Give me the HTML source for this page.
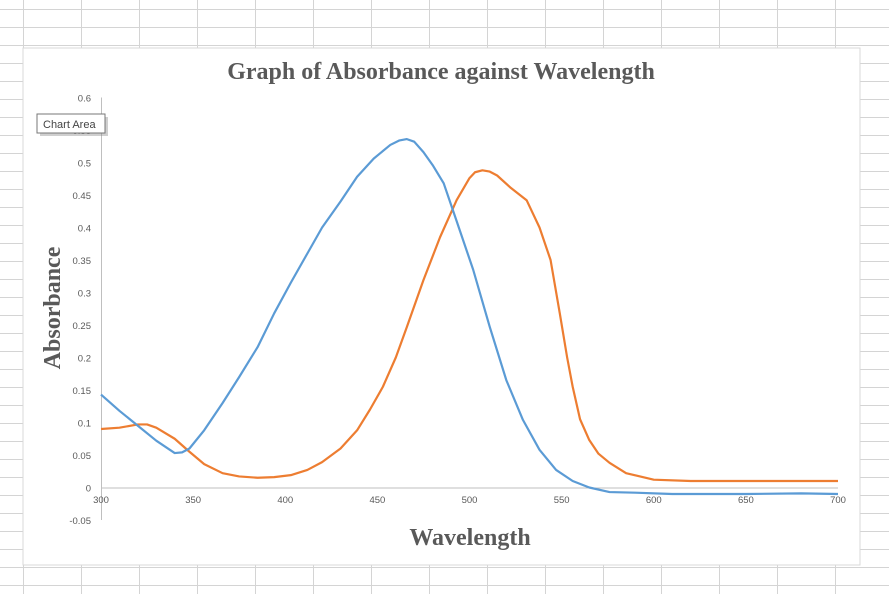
<!DOCTYPE html>
<html><head><meta charset="utf-8"><style>
body{margin:0;width:889px;height:594px;overflow:hidden;background:#fff;font-family:"Liberation Sans",sans-serif}
svg{display:block}
</style></head><body>
<svg id="s" width="889" height="594">
<g id="grid"></g>
<rect x="23" y="48" width="837" height="517" fill="#fff" stroke="#d9d9d9"/>
<text x="441" y="79" text-anchor="middle" font-family="Liberation Serif,serif" font-weight="bold" font-size="24" fill="#595959">Graph of Absorbance against Wavelength</text>
<text transform="translate(60,308) rotate(-90)" text-anchor="middle" font-family="Liberation Serif,serif" font-weight="bold" font-size="24" fill="#595959">Absorbance</text>
<text x="470" y="545" text-anchor="middle" font-family="Liberation Serif,serif" font-weight="bold" font-size="24" fill="#595959">Wavelength</text>
<g id="axes"></g>
<g id="series"></g>
<g>
<rect x="40" y="117" width="68" height="19" fill="#888" opacity="0.4"/>
<rect x="37" y="114" width="68" height="19" fill="#fff" stroke="#777"/>
<text x="43" y="128" font-size="11" fill="#444">Chart Area</text>
</g>
</svg>
<script>
const yTicks=[0.6,0.55,0.5,0.45,0.4,0.35,0.3,0.25,0.2,0.15,0.1,0.05,0,-0.05];
const xTicks=[300,350,400,450,500,550,600,650,700];
const blueX=[300,310,320,330,340,344,348,356,366,375,385,394,403,412,420,430,439,448,457,462,466,470,475,480,486,493,502,511,520,529,538,547,556,565,576,590,610,650,680,700];
const blueY=[0.143,0.118,0.095,0.072,0.053,0.054,0.060,0.088,0.13,0.17,0.216,0.268,0.315,0.36,0.40,0.44,0.478,0.506,0.527,0.534,0.536,0.532,0.516,0.496,0.468,0.41,0.335,0.247,0.165,0.104,0.058,0.027,0.01,0.0,-0.007,-0.008,-0.01,-0.01,-0.009,-0.01];
const orangeX=[300,310,320,325,330,340,348,356,366,375,385,394,403,412,420,430,439,446,453,460,466,475,484,493,500,503,507,511,515,522,531,538,544,549,553,556,560,565,570,576,585,600,620,650,680,700];
const orangeY=[0.09,0.092,0.097,0.097,0.092,0.075,0.055,0.036,0.022,0.017,0.015,0.016,0.019,0.027,0.039,0.06,0.088,0.12,0.155,0.2,0.247,0.319,0.385,0.442,0.476,0.485,0.488,0.486,0.48,0.462,0.442,0.40,0.35,0.268,0.2,0.155,0.105,0.073,0.052,0.038,0.022,0.012,0.01,0.01,0.01,0.01];
const NS="http://www.w3.org/2000/svg";
const xs=v=>101+(v-300)*(838-101)/400;
const ys=v=>487.5-v*650;
function mk(t,a,p){const e=document.createElementNS(NS,t);for(const k in a)e.setAttribute(k,a[k]);p.appendChild(e);return e;}
const grid=document.getElementById('grid');
for(let y=9;y<594;y+=18){mk('line',{x1:0,x2:889,y1:y+.5,y2:y+.5,stroke:'#d4d4d4'},grid);}
for(const x of [23,81,139,197,255,313,371,429,487,545,603,661,719,777,835]){mk('line',{x1:x+.5,x2:x+.5,y1:0,y2:594,stroke:'#d4d4d4'},grid);}
const ax=document.getElementById('axes');
const yl=mk('line',{x1:101.5,x2:101.5,y1:ys(0.6),y2:ys(-0.05),stroke:'#bfbfbf'},ax);


const xl=mk('line',{x1:101,x2:838,y1:ys(0)+.5,y2:ys(0)+.5,stroke:'#bfbfbf'},ax);


yTicks.forEach(v=>{const t=mk('text',{x:91,y:ys(v)+4,'text-anchor':'end','font-size':'9.5',fill:'#595959'},ax);t.textContent=String(v);

});
xTicks.forEach(v=>{const t=mk('text',{x:xs(v),y:503,'text-anchor':'middle','font-size':'9.5',fill:'#595959'},ax);t.textContent=String(v);

});
const sg=document.getElementById('series');
function line(X,Y,c,n){const p=mk('polyline',{points:X.map((x,i)=>xs(x)+','+ys(Y[i])).join(' '),fill:'none',stroke:c,'stroke-width':2.2,'stroke-linejoin':'round'},sg);

}
line(orangeX,orangeY,'#ed7d31','series-orange');
line(blueX,blueY,'#5b9bd5','series-blue');
</script>
</body></html>
